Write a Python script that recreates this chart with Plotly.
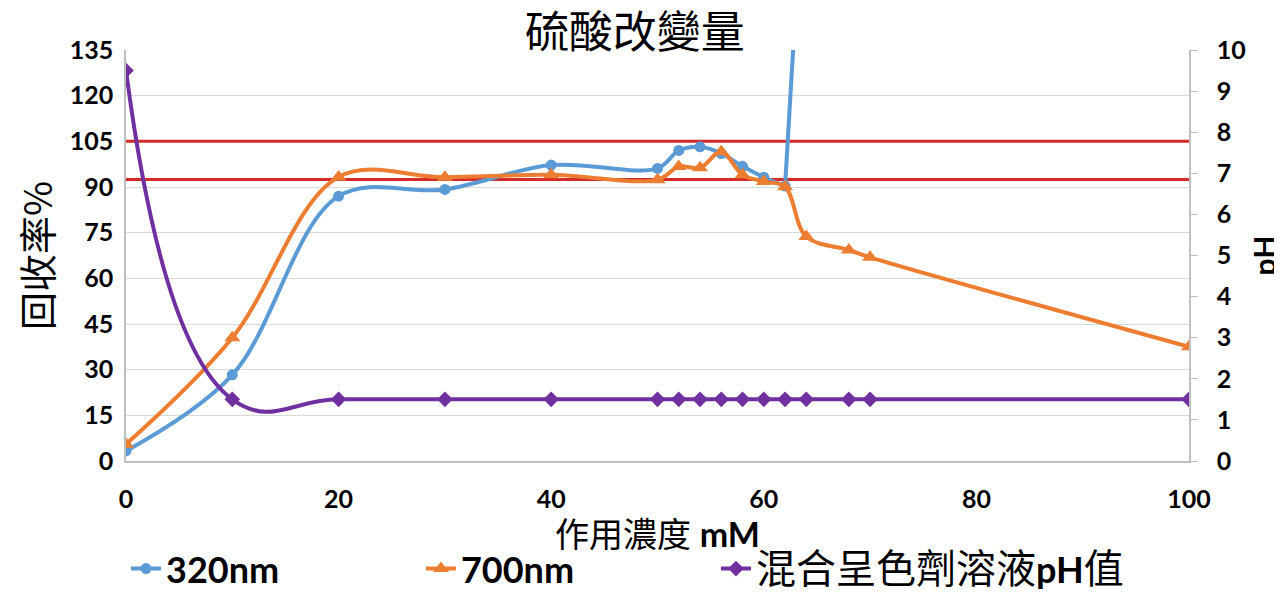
import plotly.graph_objects as go

# Concentration (mM)
conc = [0, 10, 20, 30, 40, 50, 52, 54, 56, 58, 60, 62, 64, 68, 70, 100]
conc_320 = [0, 10, 20, 30, 40, 50, 52, 54, 56, 58, 60, 62, 64]
# Recovery (%)  (last 320nm value is off-scale; estimated from the slope of the spike)
rec_320 = [3.3, 28.3, 87, 89.2, 97.2, 96.1, 102, 103.2, 101, 96.8, 93.2, 90.3, 208]
rec_700 = [5.5, 40.5, 93.3, 93.2, 94, 92.4, 96.7, 96.3, 101.6, 94, 91.8, 90.1, 73.7, 69.3, 66.9, 37.5]
# pH of mixed reagent solution
ph = [9.5, 1.5, 1.5, 1.5, 1.5, 1.5, 1.5, 1.5, 1.5, 1.5, 1.5, 1.5, 1.5, 1.5, 1.5, 1.5]
# Acceptance limits (%)
limits = [92.5, 105]
x_span = [0, 100]

LAT = "Lato, 'Noto Sans CJK TC', sans-serif"
CJK = "'Noto Sans CJK TC', sans-serif"
BLUE, ORANGE, PURPLE, RED = "#5B9BD5", "#ED7D31", "#7030A0", "#D42A2A"

fig = go.Figure()

for lim in limits:
    fig.add_trace(go.Scatter(x=x_span, y=[lim, lim], mode="lines",
                             line=dict(color=RED, width=3),
                             showlegend=False, hoverinfo="skip"))

# off-scale tail of the 320nm series
fig.add_trace(go.Scatter(x=conc_320[-2:], y=rec_320[-2:], mode="lines",
                         line=dict(color=BLUE, width=4),
                         showlegend=False, hoverinfo="skip"))
fig.add_trace(go.Scatter(x=conc_320[:-1], y=rec_320[:-1], name="<b>320nm</b>",
                         mode="lines+markers", legend="legend",
                         line=dict(color=BLUE, width=4, shape="spline", smoothing=1),
                         marker=dict(symbol="circle", size=11, color=BLUE)))
fig.add_trace(go.Scatter(x=conc, y=rec_700, name="<b>700nm</b>",
                         mode="lines+markers", legend="legend2",
                         line=dict(color=ORANGE, width=4, shape="spline", smoothing=1),
                         marker=dict(symbol="triangle-up", size=14, color=ORANGE)))
fig.add_trace(go.Scatter(x=conc, y=ph,
                         name="<span style='font-size:40px'>混合呈色劑溶液</span><b>pH</b>"
                              "<span style='font-size:40px'>值</span>",
                         mode="lines+markers", yaxis="y2", legend="legend3",
                         line=dict(color=PURPLE, width=4, shape="spline", smoothing=1.3),
                         marker=dict(symbol="diamond", size=12, color=PURPLE)))

leg = dict(orientation="h", xanchor="left", y=-0.335, yanchor="bottom",
           itemwidth=30, font=dict(family=LAT, size=36, color="black"),
           bgcolor="rgba(0,0,0,0)")

fig.update_layout(
    width=1274, height=584,
    margin=dict(l=118, r=93, t=42, b=131, autoexpand=False),
    plot_bgcolor="white", paper_bgcolor="white",
    title=dict(text="硫酸改變量", x=0.492, xanchor="center", y=0.958, yanchor="middle",
               font=dict(family=CJK, size=44, color="black")),
    xaxis=dict(range=[0, 100], tickvals=[0, 20, 40, 60, 80, 100],
               showgrid=False, zeroline=False, automargin=False,
               showline=True, linecolor="#BFBFBF", linewidth=1.5,
               ticks="", ticklabelstandoff=15,
               tickfont=dict(family=LAT, size=25, color="black", weight="bold"),
               title=dict(text="作用濃度 <b>mM</b>", standoff=6,
                          font=dict(family=LAT, size=34, color="black"))),
    yaxis=dict(range=[0, 135], tickvals=list(range(0, 136, 15)),
               showgrid=True, gridcolor="#D9D9D9", gridwidth=1.2, zeroline=False,
               automargin=False,
               showline=True, linecolor="#BFBFBF", linewidth=1.5,
               ticks="", ticklabelstandoff=6, ticksuffix="\u2003",
               tickfont=dict(family=LAT, size=25, color="black", weight="bold"),
               title=dict(text="回收率%", standoff=12,
                          font=dict(family=CJK, size=38, color="black"))),
    yaxis2=dict(range=[0, 10], tickvals=list(range(0, 11)), overlaying="y", side="right",
                showgrid=False, zeroline=False, automargin=False,
                showline=True, linecolor="#BFBFBF", linewidth=1.5,
                ticks="outside", ticklen=7, tickcolor="#BFBFBF", ticklabelstandoff=14,
                tickfont=dict(family=LAT, size=25, color="black", weight="bold"),
                title=dict(text="<b>pH</b>", standoff=10,
                           font=dict(family=LAT, size=30, color="black"))),
    legend=dict(leg, x=0.0),
    legend2=dict(leg, x=0.2775),
    legend3=dict(leg, x=0.555),
)

fig.write_html("out.html")
